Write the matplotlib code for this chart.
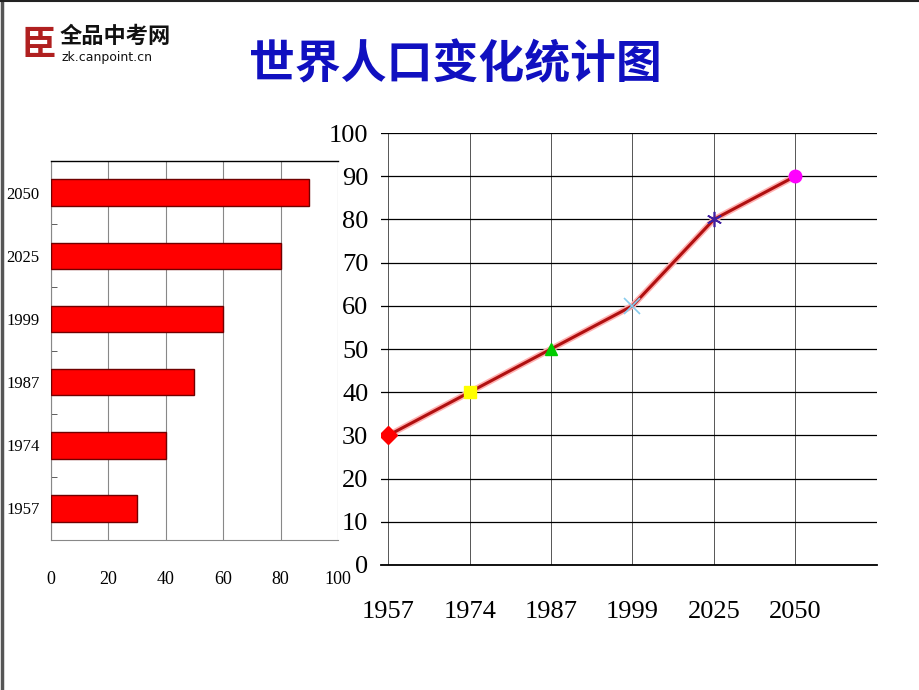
import matplotlib
matplotlib.use("Agg")
import matplotlib.pyplot as plt
from matplotlib.lines import Line2D

# data
years = ["1957", "1974", "1987", "1999", "2025", "2050"]
population = [30, 40, 50, 60, 80, 90]
bar_ticks = [0, 20, 40, 60, 80, 100]
line_ticks = [0, 10, 20, 30, 40, 50, 60, 70, 80, 90, 100]
marker_styles = ["D", "s", "^", "x", (6, 2, 0), "o"]
marker_colors = ["#FF0000", "#FFFF00", "#00CC00", "#88CCEE", "#4020A0", "#FF00FF"]

title = "世界人口变化统计图"
logo_name = "全品中考网"
logo_url = "zk.canpoint.cn"

num_font = "Liberation Serif"
cjk_font = ["Noto Sans CJK SC", "DejaVu Sans"]

fig = plt.figure(figsize=(9.2, 6.9), dpi=100)
fig.patch.set_facecolor("white")

# page frame (left and top edge)
fig.add_artist(Line2D([0.002, 0.002], [0, 1], color="#555555", lw=2.5))
fig.add_artist(Line2D([0, 1], [0.998, 0.998], color="#222222", lw=1.5))

# logo
fig.text(0.042, 0.936, "臣", family=cjk_font, fontsize=25, fontweight="bold",
         color="#B02020", ha="center", va="center")
fig.text(0.065, 0.947, logo_name, family=cjk_font, fontsize=16, fontweight="bold",
         color="#111111", ha="left", va="center")
fig.text(0.067, 0.916, logo_url, family="DejaVu Sans", fontsize=9,
         color="#111111", ha="left", va="center")

# title
fig.text(0.495, 0.906, title, family=cjk_font, fontsize=33, fontweight="bold",
         color="#1010C0", ha="center", va="center")

# ---- left: horizontal bar chart ----
ax1 = fig.add_axes([0.0554, 0.2174, 0.312, 0.549])
ypos = list(range(len(years)))
ax1.barh(ypos, population, height=0.42, color="#FF0000", edgecolor="#700000",
         linewidth=1.0, zorder=3)
ax1.set_xlim(0, 100)
ax1.set_ylim(-0.5, len(years) - 0.5)
ax1.set_xticks(bar_ticks)
ax1.set_xticklabels([str(t) for t in bar_ticks], family=num_font, fontsize=13)
ax1.set_yticks(ypos)
ax1.set_yticklabels(years, family=num_font, fontsize=12)
ax1.set_yticks([p + 0.5 for p in ypos[:-1]], minor=True)
ax1.tick_params(axis="y", which="major", length=0, pad=8)
ax1.tick_params(axis="y", which="minor", length=4, direction="in", color="#444444")
ax1.tick_params(axis="x", length=0, pad=22)
ax1.grid(axis="x", color="#888888", lw=0.8, zorder=0)
ax1.spines["right"].set_visible(False)
ax1.spines["top"].set_color("black")
ax1.spines["top"].set_linewidth(1.0)
ax1.spines["left"].set_color("#888888")
ax1.spines["bottom"].set_color("#888888")
ax1.spines["left"].set_linewidth(0.8)
ax1.spines["bottom"].set_linewidth(0.8)

# ---- right: line chart ----
ax2 = fig.add_axes([0.414, 0.1812, 0.539, 0.626])
xpos = list(range(len(years)))
ax2.plot(xpos, population, color="#FFB0B0", lw=4.5, zorder=3, solid_capstyle="round")
ax2.plot(xpos, population, color="#B01010", lw=2.2, zorder=4)
for x, y, m, c in zip(xpos, population, marker_styles, marker_colors):
    if m in ("s", "D", "^", "o"):
        ax2.plot(x, y, marker=m, color=c, markeredgecolor=c, markersize=9, zorder=5)
    else:
        ax2.plot(x, y, marker=m, color=c, markersize=11, markeredgewidth=1.2, zorder=5)
ax2.set_xlim(-0.09, 6.0)
ax2.set_ylim(0, 100)
ax2.set_xticks(xpos)
ax2.set_xticklabels(years, family=num_font, fontsize=19)
ax2.set_yticks(line_ticks)
ax2.set_yticklabels([str(t) for t in line_ticks], family=num_font, fontsize=19)
ax2.tick_params(axis="x", length=0, pad=26)
ax2.tick_params(axis="y", length=0, pad=9)
ax2.grid(axis="y", color="black", lw=0.9, zorder=1)
ax2.grid(axis="x", color="#555555", lw=0.7, zorder=1)
for s in ["left", "right", "top"]:
    ax2.spines[s].set_visible(False)
ax2.spines["bottom"].set_color("black")
ax2.spines["bottom"].set_linewidth(1.3)

fig.savefig("out.png", dpi=100, facecolor="white")
